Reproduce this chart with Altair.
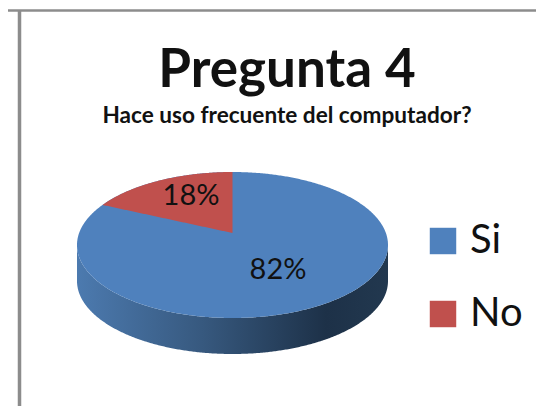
import numpy as np
import pandas as pd
import altair as alt

TITLE = "Pregunta 4"
SUBTITLE = "Hace uso frecuente del computador?"
categories = ["Si", "No"]
shares = [82, 18]
colors = ["#4f81bd", "#c0504d"]

# pie geometry in page pixels
W, H = 528, 398
CX, CY, RX, RY, DEPTH = 232.5, 245.0, 155.5, 73.0, 36.0
APEX_Y = 233.0
TILT = 0.875

xs = alt.X("x:Q", scale=alt.Scale(domain=[8, 8 + W]), axis=None)
ys = alt.Y("y:Q", scale=alt.Scale(domain=[8 + H, 8]), axis=None)
y2s = alt.Y2("y2:Q")


def upper(x):
    return CY - RY * np.sqrt(np.clip(1 - ((x - CX) / RX) ** 2, 0, 1))


def lower(x):
    return CY + RY * np.sqrt(np.clip(1 - ((x - CX) / RX) ** 2, 0, 1))


t = np.linspace(0, np.pi, 361)
ex = CX - RX * np.cos(t)

side = pd.DataFrame({"x": ex, "y": lower(ex), "y2": lower(ex) + DEPTH})
whole = pd.DataFrame({"x": ex, "y": upper(ex), "y2": lower(ex), "cat": categories[0]})

ang = np.radians(shares[1] / sum(shares) * 360 * TILT)
edge_x = CX - RX * np.sin(ang)
edge_y = CY - RY * np.cos(ang)
wx = np.linspace(edge_x, CX, 120)
wedge = pd.DataFrame({
    "x": wx,
    "y": upper(wx),
    "y2": edge_y + (APEX_Y - edge_y) * (wx - edge_x) / (CX - edge_x),
    "cat": categories[1],
})

side_layer = alt.Chart(side).mark_area(
    fill=alt.Gradient(
        gradient="linear", x1=0, x2=1, y1=0, y2=0,
        stops=[
            alt.GradientStop(color="#4c7aaf", offset=0),
            alt.GradientStop(color="#37597f", offset=0.4),
            alt.GradientStop(color="#1d3148", offset=0.8),
            alt.GradientStop(color="#22384f", offset=1),
        ],
    )
).encode(x=xs, y=ys, y2=y2s)

color = alt.Color(
    "cat:N",
    scale=alt.Scale(domain=categories, range=colors),
    legend=alt.Legend(
        title=None, orient="none", legendX=415, legendY=213,
        symbolType="square", symbolSize=700, symbolStrokeWidth=0,
        symbolOpacity=1, labelFont="Lato", labelFontSize=40,
        labelColor="#111111", labelOffset=7, rowPadding=33,
        labelLimit=200,
    ),
)
whole_layer = alt.Chart(whole).mark_area(opacity=1).encode(x=xs, y=ys, y2=y2s, color=color)
wedge_layer = alt.Chart(wedge).mark_area(opacity=1).encode(x=xs, y=ys, y2=y2s, color=color)

one = pd.DataFrame({"a": [0]})


def label(text, px, py, size, weight="normal"):
    return alt.Chart(one).mark_text(
        font="Lato", fontSize=size, fontWeight=weight, color="#111111",
        align="center", baseline="middle",
    ).encode(x=alt.value(px - 8), y=alt.value(py - 8), text=alt.value(text))


def rule(x1, x2, y1, y2, w):
    return alt.Chart(one).mark_rule(color="#8c8c8c", strokeWidth=w).encode(
        x=alt.value(x1 - 8), x2=alt.value(x2 - 8),
        y=alt.value(y1 - 8), y2=alt.value(y2 - 8),
    )


chart = alt.layer(
    rule(8, 536, 10.5, 10.5, 2.5),
    rule(19.5, 19.5, 10, 406, 3.5),
    side_layer,
    whole_layer,
    wedge_layer,
    label(f"{shares[1]}%", 191, 196, 29),
    label(f"{shares[0]}%", 278, 270, 29),
    label(TITLE, 287, 71, 53, "bold"),
    label(SUBTITLE, 287, 116, 22.6, "bold"),
).properties(
    width=W, height=H, padding=0,
    autosize=alt.AutoSizeParams(type="none"),
    background="white",
).configure_view(stroke=None)

chart.save("out.html", embed_options={"renderer": "svg", "actions": False})
